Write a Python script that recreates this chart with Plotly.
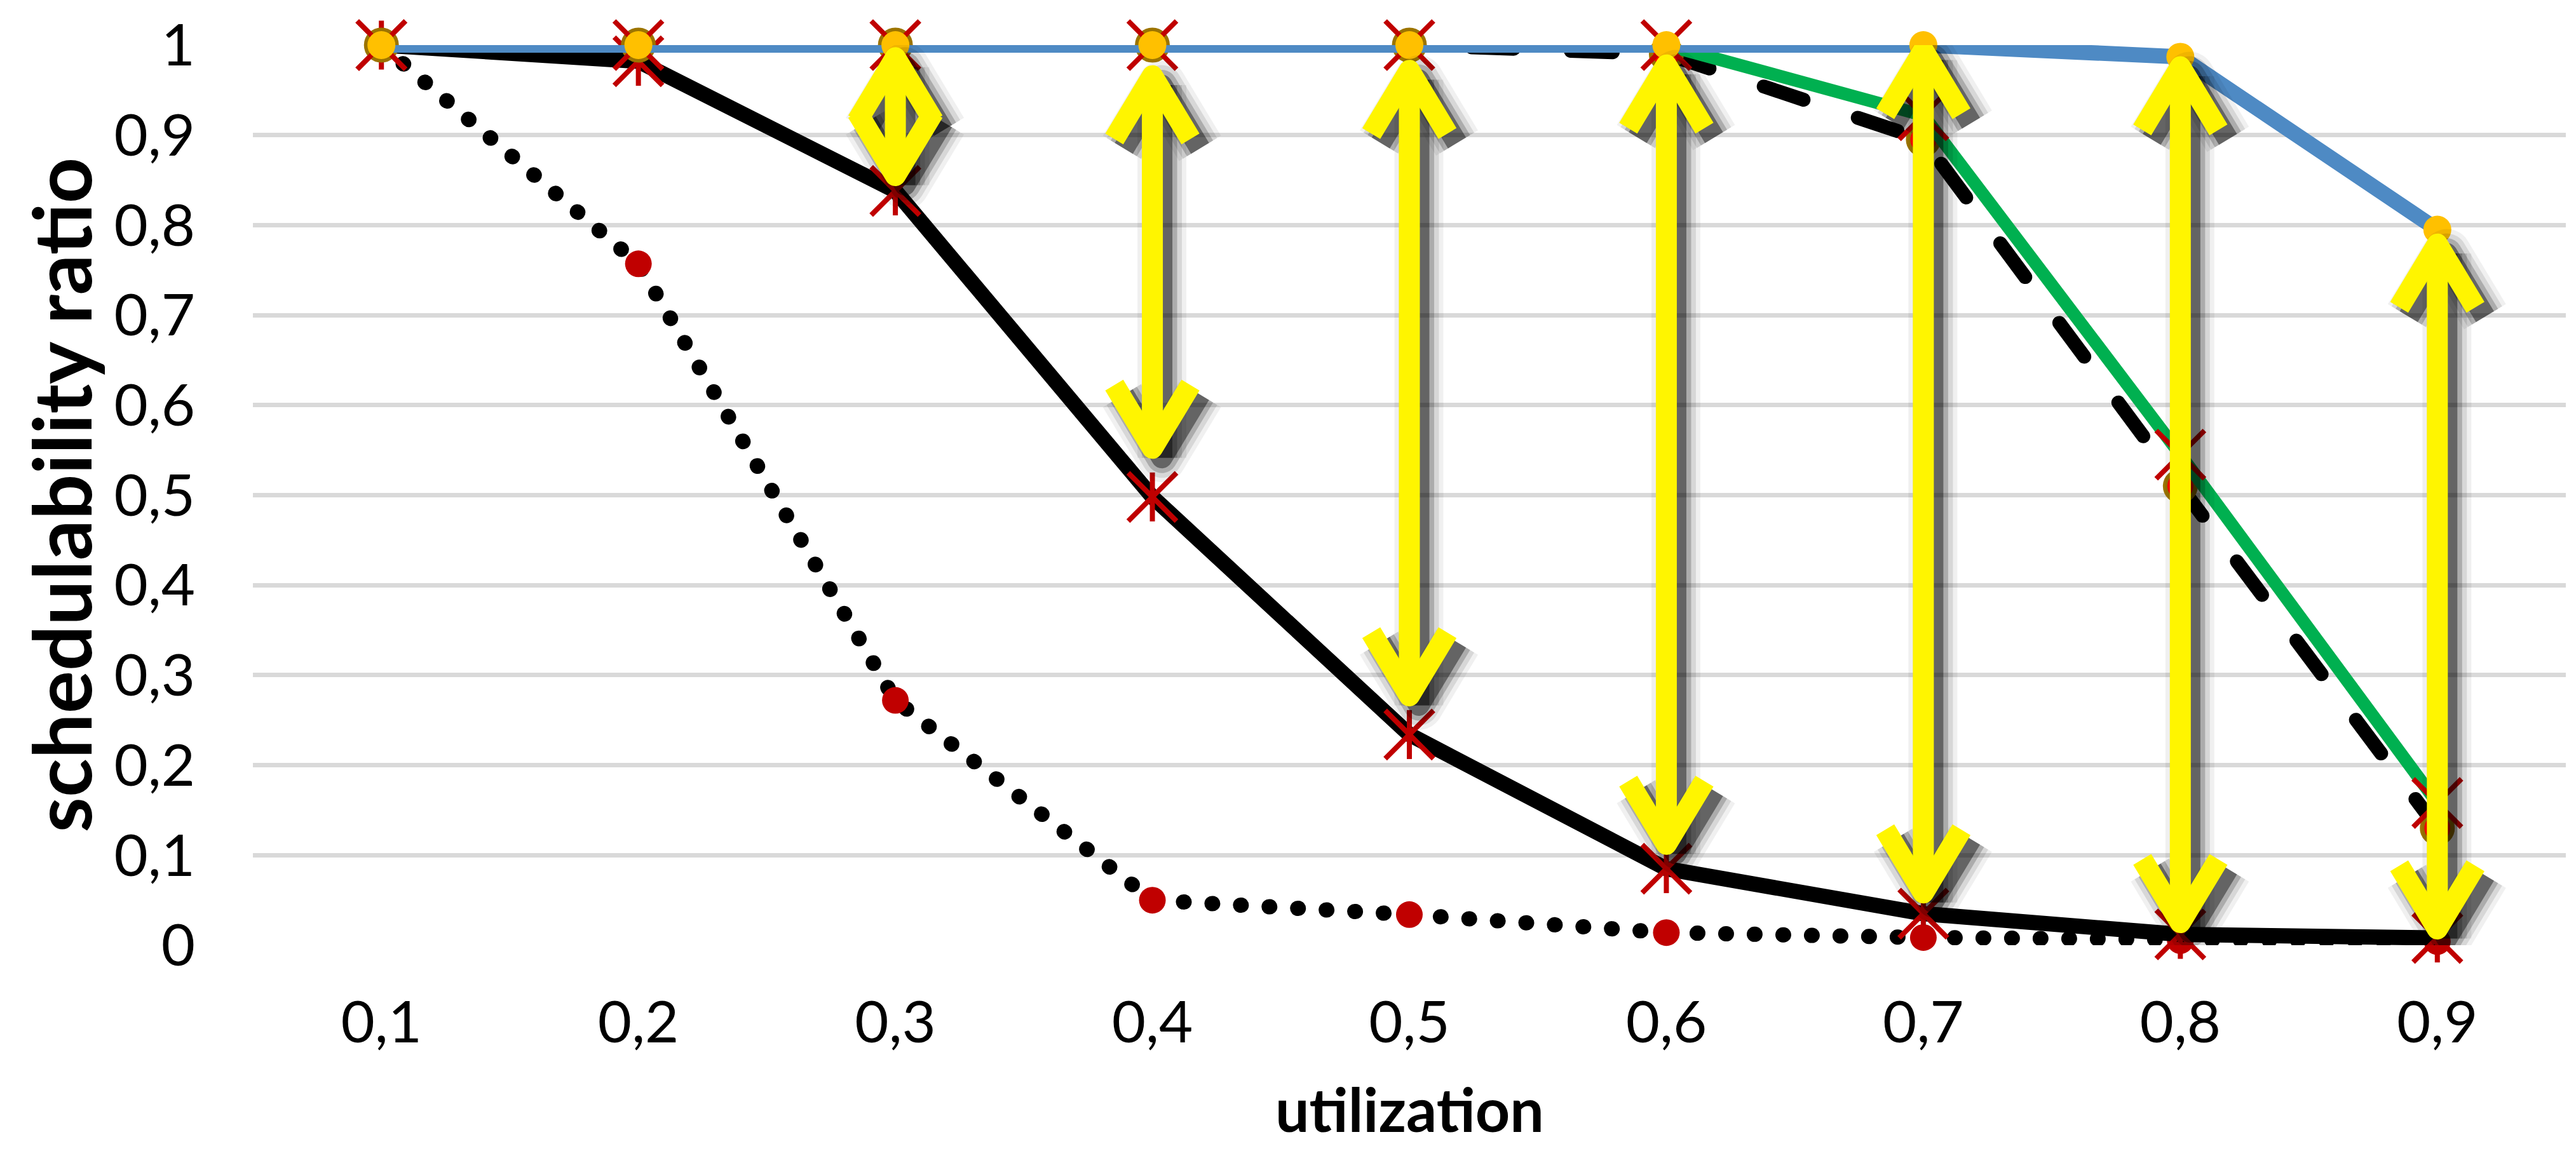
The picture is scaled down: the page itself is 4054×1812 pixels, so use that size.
import plotly.graph_objects as go

# ---------------- data ----------------
utilization = [0.1, 0.2, 0.3, 0.4, 0.5, 0.6, 0.7, 0.8, 0.9]
x_tick_labels = ["0,1", "0,2", "0,3", "0,4", "0,5", "0,6", "0,7", "0,8", "0,9"]
y_tick_values = [0.0, 0.1, 0.2, 0.3, 0.4, 0.5, 0.6, 0.7, 0.8, 0.9, 1.0]
y_tick_labels = ["0", "0,1", "0,2", "0,3", "0,4", "0,5", "0,6", "0,7", "0,8", "0,9", "1"]

series_blue = [1.0, 1.0, 1.0, 1.0, 1.0, 1.0, 1.0, 0.987, 0.795]
series_green = [1.0, 1.0, 1.0, 1.0, 1.0, 1.0, 0.922, 0.545, 0.158]
series_dashed = [1.0, 1.0, 1.0, 1.0, 1.0, 0.99, 0.895, 0.51, 0.13]
series_solid = [1.0, 0.982, 0.838, 0.498, 0.234, 0.085, 0.035, 0.012, 0.008]
series_dotted = [1.0, 0.757, 0.272, 0.05, 0.034, 0.014, 0.0085, 0.005, 0.004]

arrow_x = [0.3, 0.4, 0.5, 0.6, 0.7, 0.8, 0.9]
arrow_top = [0.986, 0.966, 0.972, 0.978, 0.994, 0.976, 0.779]
arrow_bottom = [0.855, 0.552, 0.277, 0.112, 0.058, 0.025, 0.018]

# ---------------- layout geometry / styles ----------------
W, H = 4054, 1812
M_L, M_R, M_T, M_B = 398, 16, 64, 324
X_RANGE = [0.05, 0.95]
Y_RANGE = [0.0, 1.0]
plot_w = W - M_L - M_R
plot_h = H - M_T - M_B
x_per_px = (X_RANGE[1] - X_RANGE[0]) / plot_w
y_per_px = (Y_RANGE[1] - Y_RANGE[0]) / plot_h

FONT = "Lato"
YELLOW = "#FFF500"
HEAD_HALF_W = 60 * x_per_px
HEAD_LEN = 100 * y_per_px
SHAFT_W = 33
SH_DX = 15 * x_per_px
SH_DY = 15 * y_per_px


def arrow_paths(dx=0.0, dy=0.0):
    xs, ys = [], []
    for xa, yt, yb in zip(arrow_x, arrow_top, arrow_bottom):
        xa = xa + dx
        yt = yt - dy
        yb = yb - dy
        xs += [xa, xa, None]
        ys += [yt, yb, None]
        xs += [xa - HEAD_HALF_W, xa, xa + HEAD_HALF_W, None]
        ys += [yt - HEAD_LEN, yt, yt - HEAD_LEN, None]
        xs += [xa - HEAD_HALF_W, xa, xa + HEAD_HALF_W, None]
        ys += [yb + HEAD_LEN, yb, yb + HEAD_LEN, None]
    return xs, ys


fig = go.Figure()

# dotted series
fig.add_trace(go.Scatter(
    x=utilization, y=series_dotted, mode="lines+markers", cliponaxis=False,
    line=dict(color="black", width=24, dash="1px,44px"),
    marker=dict(symbol="circle", size=42, color="#C00000"),
    showlegend=False))
# solid black series with star markers
fig.add_trace(go.Scatter(
    x=utilization, y=series_solid, mode="lines+markers", cliponaxis=False,
    line=dict(color="black", width=24),
    marker=dict(symbol="x-thin-open", size=76, color="#C00000",
                line=dict(color="#C00000", width=8)),
    showlegend=False))
fig.add_trace(go.Scatter(
    x=utilization, y=series_solid, mode="markers", cliponaxis=False,
    marker=dict(symbol="line-ns-open", size=55, color="#C00000",
                line=dict(color="#C00000", width=8)),
    showlegend=False))
# dashed series
fig.add_trace(go.Scatter(
    x=utilization, y=series_dashed, mode="lines+markers", cliponaxis=False,
    line=dict(color="black", width=22, dash="66px,90px"),
    marker=dict(symbol="circle", size=48, color="#FF0000",
                line=dict(color="#9C7400", width=7)),
    showlegend=False))
# green series
fig.add_trace(go.Scatter(
    x=utilization, y=series_green, mode="lines+markers", cliponaxis=False,
    line=dict(color="#00B050", width=20),
    marker=dict(symbol="x-thin-open", size=76, color="#C00000",
                line=dict(color="#C00000", width=8)),
    showlegend=False))
# blue series
fig.add_trace(go.Scatter(
    x=utilization, y=series_blue, mode="lines+markers", cliponaxis=False,
    line=dict(color="#4E8AC4", width=24),
    marker=dict(symbol="circle", size=44, color="#FFC000"),
    showlegend=False))

# arrow shadows (layered to fake blur)
for w_add, alpha in [(44, 0.06), (30, 0.10), (15, 0.20), (0, 0.42)]:
    sx, sy = arrow_paths(SH_DX, SH_DY)
    fig.add_trace(go.Scatter(
        x=sx, y=sy, mode="lines", cliponaxis=False, hoverinfo="skip",
        line=dict(color=f"rgba(0,0,0,{alpha})", width=SHAFT_W + w_add),
        showlegend=False))
# yellow arrows
ax_, ay_ = arrow_paths()
fig.add_trace(go.Scatter(
    x=ax_, y=ay_, mode="lines", cliponaxis=False, hoverinfo="skip",
    line=dict(color=YELLOW, width=SHAFT_W), showlegend=False))

ROUND_CAP_TRACES = [0, 3]

fig.update_layout(
    width=W, height=H,
    margin=dict(l=M_L, r=M_R, t=M_T, b=M_B, pad=0),
    paper_bgcolor="white", plot_bgcolor="white",
    font=dict(family=FONT, color="black"),
    xaxis=dict(range=X_RANGE, tickvals=utilization, ticktext=x_tick_labels,
               showgrid=False, zeroline=False, showline=False, ticks="",
               tickfont=dict(family=FONT, size=92, color="black"),
               ticklabelstandoff=60),
    yaxis=dict(range=Y_RANGE, tickvals=y_tick_values, ticktext=y_tick_labels,
               showgrid=True, gridcolor="#D9D9D9", gridwidth=7,
               zeroline=False, showline=False, ticks="",
               tickfont=dict(family=FONT, size=92, color="black"),
               ticklabelstandoff=90),
    annotations=[
        dict(text="utilization", xref="paper", yref="paper", x=0.5,
             y=-(M_B - 6) / plot_h,
             xanchor="center", yanchor="bottom", showarrow=False,
             font=dict(family=FONT, size=95, color="black", weight=700)),
        dict(text="schedulability ratio", xref="paper", yref="paper",
             x=(95 - M_L) / plot_w, y=0.5, textangle=-90,
             xanchor="center", yanchor="middle", showarrow=False,
             font=dict(family=FONT, size=126, color="black", weight=700)),
    ],
)

post = """
var gd = document.getElementById('{plot_id}');
var roundCaps = %s;
var traces = gd.querySelectorAll('.scatterlayer .trace');
traces.forEach(function(t, i){
  t.querySelectorAll('path.js-line').forEach(function(p){
    p.style.strokeLinejoin = 'round';
    if (roundCaps.indexOf(i) >= 0) { p.style.strokeLinecap = 'round'; }
  });
});
""" % str(ROUND_CAP_TRACES)

fig.write_html("out.html", post_script=post)
